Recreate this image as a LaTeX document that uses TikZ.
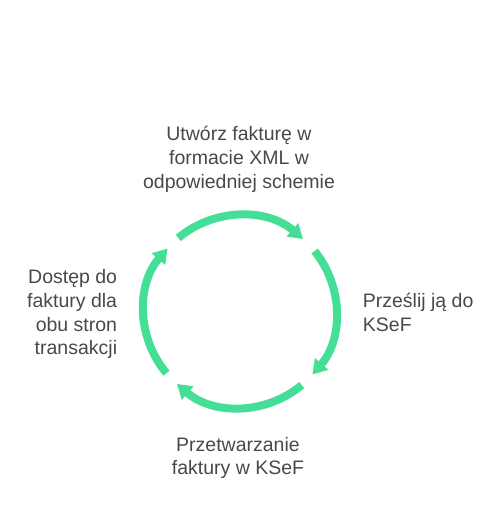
\documentclass[tikz,border=0pt]{standalone}
\usepackage{fontspec}
\setmainfont{Liberation Sans}
\usetikzlibrary{arrows.meta}
\definecolor{cyclegreen}{RGB}{69,222,150}
\definecolor{labelgray}{RGB}{72,72,72}
\begin{document}
\begin{tikzpicture}[x=1pt,y=1pt,
  cyclearc/.style={draw=cyclegreen, line width=8pt, line cap=butt,
    -{Triangle[width=17pt,length=14pt]}},
  steplabel/.style={text=labelgray, inner sep=0pt,
    font=\fontsize{19.5}{23.8}\selectfont}]
\useasboundingbox (0,0) rectangle (492,528);
\coordinate (c) at (240,216.5);
\draw[cyclearc] (c) ++(130:96) arc[start angle=130, end angle=49, radius=96];
\draw[cyclearc] (c) ++(39:96) arc[start angle=39, end angle=-41, radius=96];
\draw[cyclearc] (c) ++(-50:96) arc[start angle=-50, end angle=-131, radius=96];
\draw[cyclearc] (c) ++(-140:96) arc[start angle=-140, end angle=-221, radius=96];
\node[steplabel, align=center, anchor=base] (create) at (239,339.7)
  {Utwórz fakturę w\\formacie XML w\\odpowiedniej schemie};
\node[steplabel, align=left, anchor=base west] (send) at (362.7,196.3)
  {Prześlij ją do\\KSeF};
\node[steplabel, align=center, anchor=base] (process) at (238,53)
  {Przetwarzanie\\faktury w KSeF};
\node[steplabel, align=right, anchor=base east] (access) at (117.3,173)
  {Dostęp do\\faktury dla\\obu stron\\transakcji};
\end{tikzpicture}
\end{document}
